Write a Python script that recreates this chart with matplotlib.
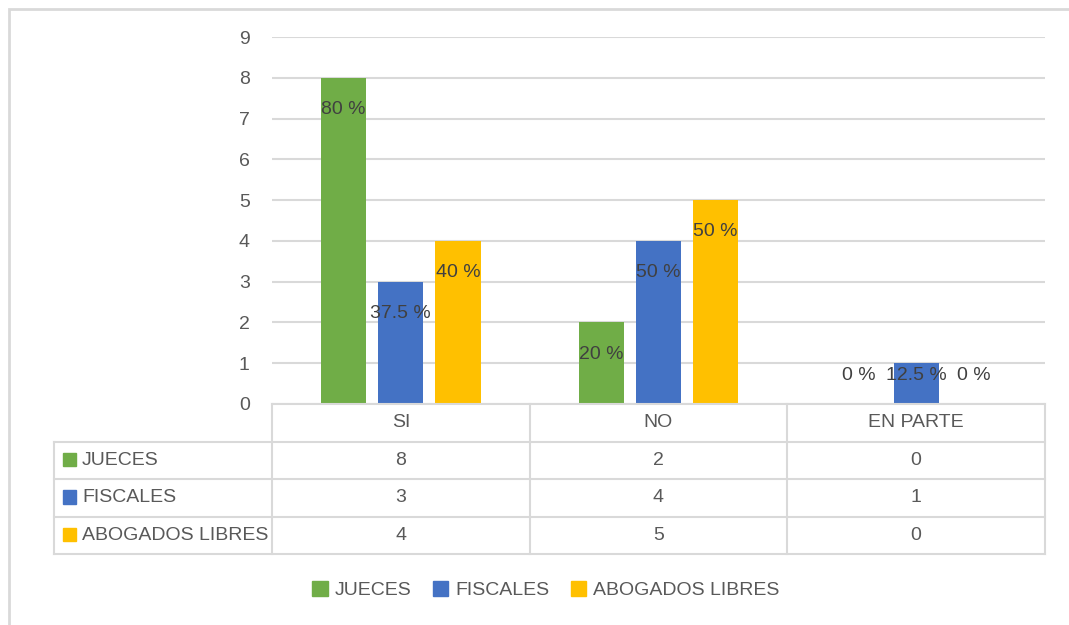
import numpy as np
import matplotlib as mpl
mpl.use('Agg')
import matplotlib.pyplot as plt
from matplotlib.patches import Rectangle

# survey answers per group
categories = ["SI", "NO", "EN PARTE"]
series_names = ["JUECES", "FISCALES", "ABOGADOS LIBRES"]
jueces = [8, 2, 0]
fiscales = [3, 4, 1]
abogados = [4, 5, 0]
pct_jueces = ["80 %", "20 %", "0 %"]
pct_fiscales = ["37.5 %", "50 %", "12.5 %"]
pct_abogados = ["40 %", "50 %", "0 %"]

colours = ["#70AD47", "#4472C4", "#FFC000"]
text_col = "#595959"
label_col = "#404040"
grid_col = "#D9D9D9"

plt.rcParams['font.family'] = ['Liberation Sans', 'DejaVu Sans']
W, H = 1069, 625
fig = plt.figure(figsize=(W / 100, H / 100), dpi=100)


def px_box(x0, y0, x1, y1):
    # pixel box (top-left origin) -> figure fraction rect
    return [x0 / W, 1 - y1 / H, (x1 - x0) / W, (y1 - y0) / H]


# outer chart frame
fig.patches.append(Rectangle((9 / W, -0.1), 1.2, 1 - 9 / H + 0.1,
                             transform=fig.transFigure, fill=False,
                             edgecolor="#D9D9D9", linewidth=2))

ax = fig.add_axes(px_box(272, 37, 1045, 404))
values = [jueces, fiscales, abogados]
pcts = [pct_jueces, pct_fiscales, pct_abogados]
x = np.arange(len(categories))
bw = 0.175
step = 0.222
for i in range(3):
    xs = x + (i - 1) * step
    ax.bar(xs, values[i], width=bw, color=colours[i], zorder=3)
    for xi, v, lab in zip(xs, values[i], pcts[i]):
        y = max(v - 0.78, 0.7)
        ax.text(xi, y, lab, ha="center", va="center", fontsize=14,
                color=label_col, zorder=4)

ax.set_xlim(-0.5, 2.5)
ax.set_ylim(0, 9)
ax.set_yticks(range(10))
ax.set_xticks([])
ax.yaxis.grid(True, color=grid_col, linewidth=1.5, zorder=0)
ax.tick_params(axis="y", length=0, labelsize=14, labelcolor=text_col, pad=16)
for s in ax.spines.values():
    s.set_visible(False)

# data table under the plot
tab = fig.add_axes(px_box(54, 404, 1045, 554))
left = -0.5 - 218 / 257.67
tab.set_xlim(left, 2.5)
tab.set_ylim(4, 0)
tab.axis("off")
lw = 1.5
# header row has no label cell
tab.plot([-0.5, 2.5], [0, 0], color=grid_col, lw=lw, clip_on=False)
for c in range(4):
    xc = -0.5 + c
    tab.plot([xc, xc], [0, 4], color=grid_col, lw=lw, clip_on=False)
tab.plot([left, left], [1, 4], color=grid_col, lw=lw, clip_on=False)
for r in range(1, 5):
    tab.plot([left, 2.5], [r, r], color=grid_col, lw=lw, clip_on=False)
for c, cat in enumerate(categories):
    tab.text(c, 0.5, cat, ha="center", va="center", fontsize=14, color=text_col)
for r in range(3):
    tab.add_patch(Rectangle((left + 9 / 257.67, r + 1.3), 13 / 257.67, 0.36,
                            color=colours[r], clip_on=False))
    tab.text(left + 28 / 257.67, r + 1.5, series_names[r], ha="left",
             va="center", fontsize=14, color=text_col)
    for c in range(3):
        tab.text(c, r + 1.5, str(values[r][c]), ha="center", va="center",
                 fontsize=14, color=text_col)

# legend below the table
handles = [Rectangle((0, 0), 1, 1, color=col) for col in colours]
fig.legend(handles, series_names, loc="center", bbox_to_anchor=(546 / W, 1 - 590 / H),
           ncol=3, frameon=False, fontsize=14, labelcolor=text_col,
           handlelength=0.8, handleheight=0.8, handletextpad=0.35,
           columnspacing=1.1)

fig.savefig("out.png", dpi=100)
plt.close(fig)
